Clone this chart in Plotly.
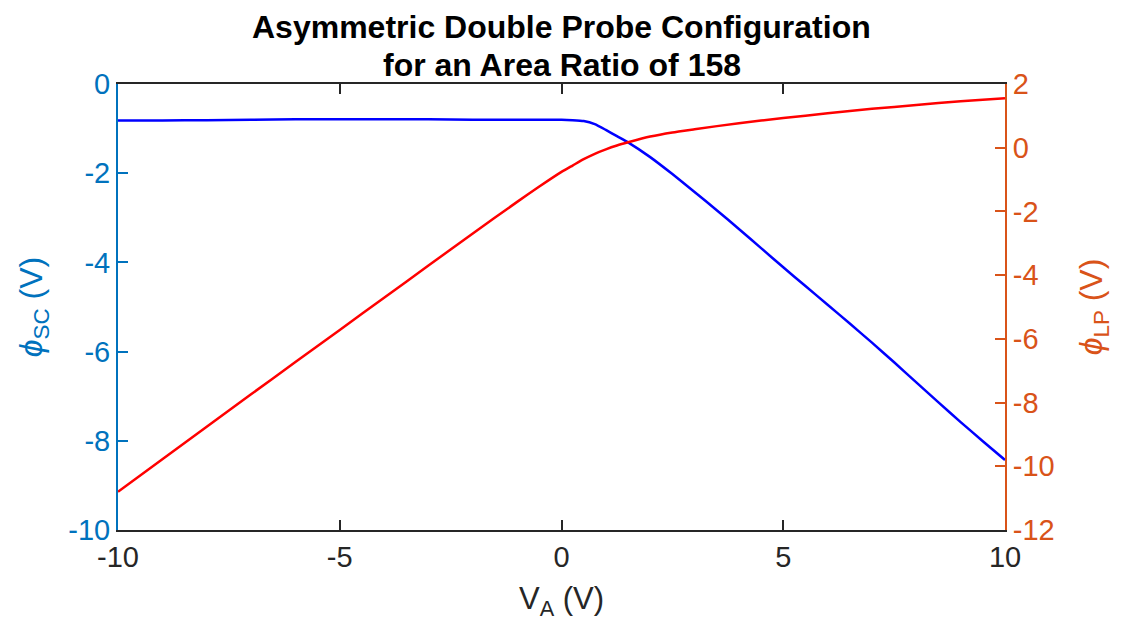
import plotly.graph_objects as go

# Data
va_sc = [-10, -9, -8, -7, -6, -5, -4, -3, -2, -1, 0, 0.25, 0.5, 0.75, 1.0, 1.25, 1.5,
         2.0, 2.5, 3.0, 3.5, 4.0, 4.5, 5.0, 5.5, 6.0, 6.5, 7.0, 7.5, 8.0, 8.5, 9.0, 9.5, 10]
phi_sc = [-0.82, -0.82, -0.81, -0.80, -0.79, -0.79, -0.79, -0.79, -0.80, -0.80, -0.80,
          -0.81, -0.83, -0.90, -1.03, -1.17, -1.31, -1.64, -2.02, -2.42, -2.83, -3.25,
          -3.68, -4.11, -4.53, -4.95, -5.37, -5.80, -6.24, -6.69, -7.14, -7.58, -8.01, -8.43]

va_lp = [-10, -9, -8, -7, -6, -5, -4, -3, -2, -1, -0.5, 0, 0.25, 0.5, 0.75, 1.0, 1.25,
         1.5, 2.0, 2.5, 3.0, 4.0, 5.0, 6.0, 7.0, 8.0, 9.0, 10]
phi_lp = [-10.80, -9.78, -8.76, -7.74, -6.73, -5.72, -4.71, -3.70, -2.69, -1.70, -1.22,
          -0.76, -0.56, -0.36, -0.19, -0.05, 0.07, 0.17, 0.35, 0.48, 0.58, 0.77, 0.93,
          1.08, 1.22, 1.34, 1.46, 1.55]

x_ticks = [-10, -5, 0, 5, 10]
y1_ticks = [-10, -8, -6, -4, -2, 0]
y2_ticks = [-12, -10, -8, -6, -4, -2, 0, 2]
title_lines = ["Asymmetric Double Probe Configuration", "for an Area Ratio of 158"]

BLUE_AX = "#0072BD"
ORANGE_AX = "#D95319"
DARK = "#262626"
FONT = "Liberation Sans, Arial, Helvetica, sans-serif"


def labels(vals):
    return [str(v) for v in vals]  # plain hyphen minus, as in the reference


fig = go.Figure()
fig.add_trace(go.Scatter(x=va_sc, y=phi_sc, mode="lines",
                         line=dict(color="#0000FF", width=2.5, shape="spline", smoothing=0.5),
                         yaxis="y", showlegend=False))
fig.add_trace(go.Scatter(x=va_lp, y=phi_lp, mode="lines",
                         line=dict(color="#FF0000", width=2.5, shape="spline", smoothing=0.5),
                         yaxis="y2", showlegend=False))

fig.update_layout(
    width=1114, height=616,
    margin=dict(l=110, r=117, t=76, b=94),
    paper_bgcolor="white", plot_bgcolor="white",
    font=dict(family=FONT, size=28, color=DARK),
    xaxis=dict(range=[-10, 10], tickvals=x_ticks, ticktext=labels(x_ticks),
               ticks="inside", ticklen=10,
               tickwidth=1.5, tickcolor=DARK, showline=True, linecolor=DARK,
               linewidth=2, mirror="ticks", showgrid=False, zeroline=False,
               tickfont=dict(size=29, color=DARK),
               title=dict(text="V<sub>A</sub> (V)", font=dict(size=31, color=DARK),
                          standoff=16)),
    yaxis=dict(range=[-10, 0], tickvals=y1_ticks, ticktext=labels(y1_ticks),
               ticks="inside", ticklen=10, tickwidth=1.5,
               tickcolor=BLUE_AX, showline=True, linecolor=BLUE_AX, linewidth=2,
               showgrid=False, zeroline=False, tickfont=dict(size=29, color=BLUE_AX),
               title=dict(text="<i>ϕ</i><sub>SC</sub> (V)",
                          font=dict(size=32, color=BLUE_AX), standoff=16)),
    yaxis2=dict(range=[-12, 2], tickvals=y2_ticks, ticktext=labels(y2_ticks),
                overlaying="y", side="right", ticks="inside",
                ticklen=10, tickwidth=1.5, tickcolor=ORANGE_AX, showline=True,
                linecolor=ORANGE_AX, linewidth=2, showgrid=False, zeroline=False,
                tickfont=dict(size=29, color=ORANGE_AX),
                title=dict(text="<i>ϕ</i><sub>LP</sub> (V)",
                           font=dict(size=32, color=ORANGE_AX), standoff=26)),
    annotations=[
        dict(text="<b>%s</b>" % title_lines[0], xref="paper", yref="paper", x=0.5,
             y=1.128, showarrow=False, borderpad=0,
             font=dict(size=32, color="black", family=FONT),
             xanchor="center", yanchor="middle"),
        dict(text="<b>%s</b>" % title_lines[1], xref="paper", yref="paper", x=0.5,
             y=1.043, showarrow=False, borderpad=0,
             font=dict(size=32, color="black", family=FONT),
             xanchor="center", yanchor="middle"),
    ],
)

fig.write_html("out.html")
